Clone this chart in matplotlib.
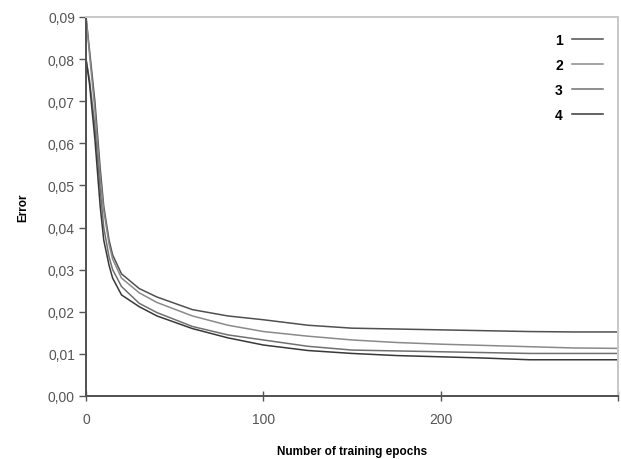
import matplotlib
matplotlib.use("Agg")
import matplotlib.pyplot as plt
from matplotlib.ticker import FuncFormatter

plt.rcParams["font.family"] = ["Liberation Sans", "DejaVu Sans"]

EPOCHS = [0, 2, 5, 8, 10, 13, 15, 20, 30, 40, 60, 80, 100, 125, 150, 175, 200, 225, 250, 275, 300]

ERR_1 = [0.090, 0.082, 0.070, 0.054, 0.045, 0.037, 0.0335, 0.0290, 0.0255, 0.0235, 0.0205,
         0.0190, 0.0181, 0.0168, 0.0161, 0.0159, 0.0157, 0.0155, 0.0153, 0.0152, 0.0152]
ERR_2 = [0.090, 0.081, 0.068, 0.052, 0.044, 0.036, 0.0325, 0.0280, 0.0245, 0.0222, 0.0190,
         0.0168, 0.0153, 0.0142, 0.0133, 0.0127, 0.0123, 0.0120, 0.0117, 0.0114, 0.0113]
ERR_3 = [0.080, 0.075, 0.064, 0.049, 0.040, 0.033, 0.0300, 0.0260, 0.0220, 0.0198, 0.0165,
         0.0145, 0.0133, 0.0118, 0.0109, 0.0107, 0.0105, 0.0103, 0.0101, 0.0101, 0.0101]
ERR_4 = [0.080, 0.074, 0.061, 0.045, 0.037, 0.031, 0.0280, 0.0240, 0.0212, 0.0190, 0.0160,
         0.0138, 0.0121, 0.0108, 0.0101, 0.0096, 0.0093, 0.0090, 0.0086, 0.0086, 0.0086]

SERIES = [ERR_1, ERR_2, ERR_3, ERR_4]
LABELS = ["1", "2", "3", "4"]
COLORS = ["#505050", "#8a8a8a", "#707070", "#383838"]

X_TICKS = [0, 100, 200, 300]
X_TICK_LABELS = ["0", "100", "200", ""]

fig = plt.figure(figsize=(6.21, 4.60), dpi=100)
ax = fig.add_axes([0.1385, 0.137, 0.857, 0.824])

for errs, lab, col in zip(SERIES, LABELS, COLORS):
    ax.plot(EPOCHS, errs, color=col, linewidth=1.1, label=lab)

ax.set_xlim(0, 298)
ax.set_ylim(0, 0.09)
ax.set_yticks([i / 100 for i in range(10)])
ax.yaxis.set_major_formatter(FuncFormatter(lambda v, p: ("%.2f" % v).replace(".", ",")))
ax.set_xticks(X_TICKS)
ax.set_xticklabels(X_TICK_LABELS)

ax.tick_params(axis="y", direction="out", length=5, width=1, color="#555555",
               labelsize=10, labelcolor="#555555", pad=3)
ax.tick_params(axis="x", direction="inout", length=7, width=1, color="#555555",
               labelsize=10, labelcolor="#555555", pad=8)

for side in ["left", "bottom"]:
    ax.spines[side].set_color("#505050")
    ax.spines[side].set_linewidth(1.4)
for side in ["top", "right"]:
    ax.spines[side].set_color("#c8c8c8")
    ax.spines[side].set_linewidth(1.4)

ax.set_xlabel("Number of training epochs", fontsize=8.5, fontweight="bold", labelpad=14)
ax.set_ylabel("Error", fontsize=8.5, fontweight="bold", labelpad=13)

leg = ax.legend(loc="upper right", markerfirst=False, frameon=False,
                prop={"weight": "bold", "size": 10}, handlelength=2.2,
                handletextpad=0.7, labelspacing=0.78,
                bbox_to_anchor=(0.995, 0.99))

fig.savefig("out.png", dpi=100)
